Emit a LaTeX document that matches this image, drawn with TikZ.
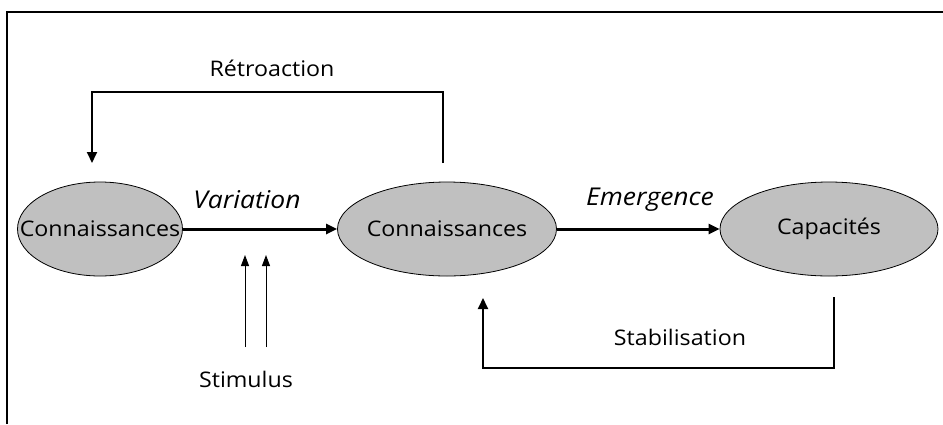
\documentclass[tikz,border=0pt]{standalone}
\usepackage{fontspec}
\setmainfont[FakeStretch=1.08]{Open Sans}
\definecolor{ovalgray}{RGB}{192, 192, 192}
\usetikzlibrary{arrows.meta, shapes.geometric}

\newcommand{\ovaltext}[1]{\makebox[0pt]{#1}}

\tikzset{
  oval/.style={ellipse, draw=black, line width=0.8pt, fill=ovalgray, minimum width=#1, minimum height=94pt, inner sep=0pt},
  mainarrow/.style={-{Triangle[length=11pt,width=10pt]}, line width=3pt},
  looparrow/.style={-{Triangle[length=11pt,width=10pt]}, line width=1.8pt},
  thinarrow/.style={-{Triangle[length=11pt,width=8pt]}, line width=1pt},
  lbl/.style={font=\fontsize{21.5}{26}\selectfont},
  itlbl/.style={font=\fontsize{24.5}{29}\selectfont\itshape},
}

\begin{document}
\begin{tikzpicture}[x=1pt, y=-1pt]
        \useasboundingbox (0,0) rectangle (943,424);
        % Frame
        \draw[line width=1.5pt] (7,424) -- (7,12) -- (943,12);

        % Ovals
        \node[oval=165pt, lbl] (know1) at (100,229) {\ovaltext{Connaissances}};
        \node[oval=219pt, lbl] (know2) at (447,229) {\ovaltext{Connaissances}};
        \node[oval=218pt, lbl] (skills) at (829,229) {\ovaltext{Capacités}};

        % Main arrows
        \draw[mainarrow] (know1) -- (know2);
        \draw[mainarrow] (know2) -- (skills);
        \node[itlbl] (var) at (247,200) {Variation};
        \node[itlbl] (emer) at (650,200) {Emergence};

        % Retroaction loop
        \coordinate (retroA) at (443,163);
        \coordinate (retroB) at (92,163);
        \draw[looparrow] (retroA) -- (443,92) -- (92,92) -- (retroB);
        \node[lbl] (retro) at (272,68) {Rétroaction};

        % Stabilisation loop
        \coordinate (stabA) at (834,297);
        \coordinate (stabB) at (483,298);
        \draw[looparrow] (stabA) -- (834,368) -- (483,368) -- (stabB);
        \node[lbl] (stab) at (680,337) {Stabilisation};

        % Stimulus
        \node[lbl] (stim) at (246,379) {Stimulus};
        \coordinate (stimA) at (245,347);
        \coordinate (stimB) at (266,347);
        \coordinate (stimA') at (245,255);
        \coordinate (stimB') at (266,255);
        \draw[thinarrow] (stimA) -- (stimA');
        \draw[thinarrow] (stimB) -- (stimB');
    \end{tikzpicture}
\end{document}
